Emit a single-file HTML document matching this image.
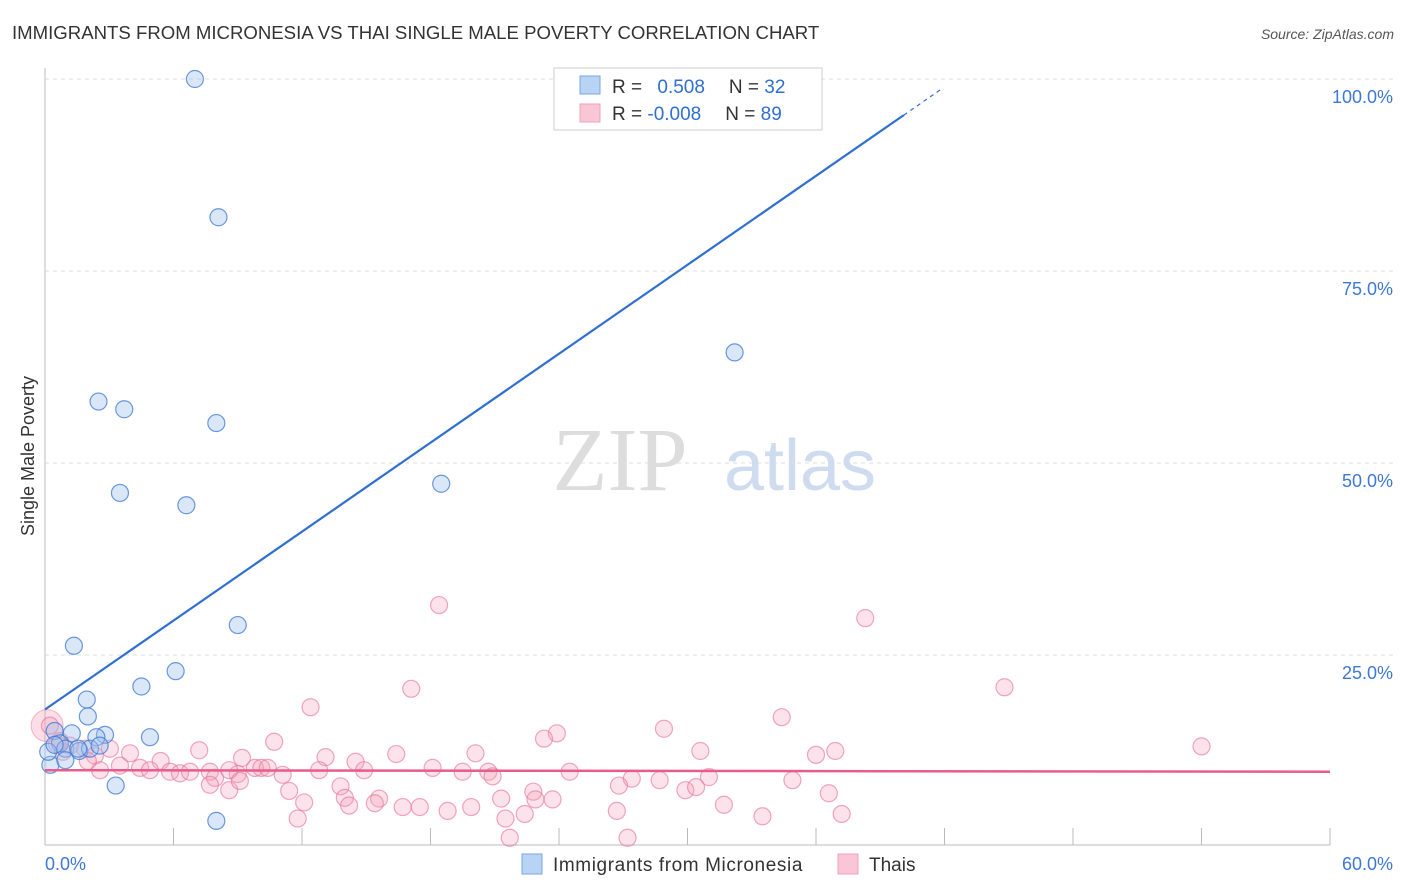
<!DOCTYPE html>
<html><head><meta charset="utf-8"><style>
body{margin:0;background:#fff;font-family:"Liberation Sans",sans-serif}
svg{display:block}
</style></head><body>
<svg width="1406" height="892">
<text x="12" y="39" font-size="18.6" fill="#333">IMMIGRANTS FROM MICRONESIA VS THAI SINGLE MALE POVERTY CORRELATION CHART</text>
<text x="1394" y="39" font-size="14" fill="#555" font-style="italic" text-anchor="end">Source: ZipAtlas.com</text>
<g id="grid"></g>
<text x="620" y="490" font-size="90" fill="#ddd" font-family="Liberation Serif" text-anchor="middle">ZIP</text>
<text x="800" y="490" font-size="72" fill="#cfdcf0" text-anchor="middle">atlas</text>
<text transform="translate(34,456) rotate(-90)" font-size="18" fill="#333" text-anchor="middle">Single Male Poverty</text>
<g id="marks"></g>
<g>
<rect x="554" y="68" width="268" height="62" fill="#fff" stroke="#ccc"/>
<rect x="580" y="76" width="20" height="18" fill="#b9d3f5" stroke="#7aa6e0"/>
<rect x="580" y="104" width="20" height="18" fill="#f9c6d5" stroke="#eea0b8"/>
<text x="612" y="93" font-size="19" fill="#333">R = <tspan fill="#2f6fd0" dx="10">0.508</tspan><tspan dx="24" fill="#333">N = </tspan><tspan fill="#2f6fd0">32</tspan></text>
<text x="612" y="120" font-size="19" fill="#333">R = <tspan fill="#2f6fd0">-0.008</tspan><tspan dx="24" fill="#333">N = </tspan><tspan fill="#2f6fd0">89</tspan></text>
</g>
<g>
<rect x="522" y="854" width="20" height="20" fill="#b9d3f5" stroke="#7aa6e0"/>
<text x="553" y="871" font-size="19" letter-spacing="0.6" fill="#333">Immigrants from Micronesia</text>
<rect x="838" y="854" width="20" height="20" fill="#f9c6d5" stroke="#eea0b8"/>
<text x="869" y="871" font-size="19" fill="#333">Thais</text>
</g>
</svg>
<script>
const xTicks=[0,60];
const yTicks=[25,50,75,100];
const blueX=[7,8.1,2.5,3.7,8,3.5,6.6,18.5,32.2,9.0,1.35,6.1,4.5,1.95,2.0,4.9,2.8,2.4,1.25,0.45,0.7,0.95,1.6,2.1,2.55,0.25,0.95,3.3,8.0,0.15,0.45,1.55];
const blueY=[100,82,58,57,55.2,46.1,44.5,47.3,64.4,28.9,26.2,22.9,20.9,19.2,17.0,14.3,14.6,14.3,14.8,15.1,13.5,12.8,12.5,12.8,13.2,10.7,11.3,8.0,3.4,12.4,13.3,12.8];
const pinkX=[18.4,38.3,44.8,54.0,17.1,12.4,34.4,28.9,23.9,23.3,30.6,36.9,36.0,20.1,16.4,13.1,9.2,7.2,10.7,3.97,5.4,0.23,0.7,1.17,1.87,2.33,3.03,3.5,4.44,4.9,5.84,6.3,6.77,7.7,7.94,9.0,9.8,10.1,11.1,12.8,14.5,14.9,18.1,19.5,20.7,20.9,24.5,27.4,26.8,28.7,31.0,34.9,13.8,14.0,14.2,15.6,15.4,16.7,17.5,18.8,19.9,21.3,21.5,22.4,22.8,22.9,23.7,26.7,29.9,30.4,31.7,33.5,36.6,37.2,11.8,12.1,7.7,8.6,2.57,2.0,0.84,0.56,21.7,27.2,11.4,8.6,10.4,9.1];
const pinkY=[31.5,29.8,20.8,13.1,20.6,18.2,16.9,15.4,14.8,14.1,12.5,12.5,12.0,12.2,12.1,11.7,11.6,12.6,13.7,12.2,11.2,15.8,13.8,13.2,12.8,11.9,12.8,10.6,10.3,10.0,9.8,9.6,9.8,9.8,9.0,9.5,10.3,10.3,9.4,10.0,11.1,10.0,10.3,9.8,9.8,9.2,9.8,8.9,8.0,8.7,9.1,8.7,7.9,6.4,5.4,6.3,5.7,5.2,5.2,4.7,5.2,6.3,3.7,4.3,7.2,6.2,6.2,4.7,7.4,7.8,5.5,4.0,7.0,4.3,3.7,5.8,8.1,7.4,10.0,11.2,12.4,13.4,1.2,1.2,7.3,10.0,10.3,8.6];
const blueTrend=[0,17.9,40.1,95.3];
const pinkTrend=[0,10.0,60,9.8];
const NS='http://www.w3.org/2000/svg';
const X0=45,X1=1330,Y0=847,Y100=79;
const sx=v=>X0+(v/60)*(X1-X0);
const sy=v=>Y0-(v/100)*(Y0-Y100);
const grid=document.getElementById('grid'),marks=document.getElementById('marks');
function mk(t,a,p){const e=document.createElementNS(NS,t);for(const k in a)e.setAttribute(k,a[k]);p.appendChild(e);return e;}
let ax=mk('line',{x1:X0,y1:68,x2:X0,y2:845,stroke:'#bbb'},grid);


let bx=mk('line',{x1:X0,y1:845,x2:X1,y2:845,stroke:'#bbb'},grid);


for(let i=1;i<=10;i++){const x=X0+i*(X1-X0)/10;let t=mk('line',{x1:x,y1:828,x2:x,y2:845,stroke:'#bbb'},grid);

}
yTicks.forEach(v=>{let g=mk('line',{x1:X0,y1:sy(v),x2:1394,y2:sy(v),stroke:'#ddd','stroke-dasharray':'4,4'},grid);


let t=mk('text',{x:1393,y:sy(v)+24,'font-size':18,fill:'#3d78d8','text-anchor':'end'},grid);t.textContent=v.toFixed(1)+'%';

});
xTicks.forEach((v,i)=>{let t=mk('text',{x:i?1393:45,y:870,'font-size':18,fill:'#3d78d8','text-anchor':i?'end':'start'},grid);t.textContent=v.toFixed(1)+'%';

});
let big=mk('circle',{cx:sx(0.1),cy:sy(15.8),r:16,fill:'rgba(244,160,185,0.35)',stroke:'rgba(232,120,160,0.5)'},marks);


pinkX.forEach((x,i)=>{let c=mk('circle',{cx:sx(x),cy:sy(pinkY[i]),r:8.5,fill:'rgba(244,160,185,0.3)',stroke:'rgba(232,110,150,0.6)','stroke-width':1.2},marks);

});
blueX.forEach((x,i)=>{let c=mk('circle',{cx:sx(x),cy:sy(blueY[i]),r:8.5,fill:'rgba(160,195,240,0.4)',stroke:'rgba(60,120,210,0.75)','stroke-width':1.2},marks);

});
let bl=mk('line',{x1:sx(blueTrend[0]),y1:sy(blueTrend[1]),x2:sx(blueTrend[2]),y2:sy(blueTrend[3]),stroke:'#2f6fd0','stroke-width':2.2},marks);


const slope=(blueTrend[3]-blueTrend[1])/(blueTrend[2]-blueTrend[0]);
let bd=mk('line',{x1:sx(blueTrend[2]),y1:sy(blueTrend[3]),x2:sx(41.8),y2:sy(blueTrend[1]+slope*41.8),stroke:'#2f6fd0','stroke-width':1.2,'stroke-dasharray':'4,4'},marks);


let pl=mk('line',{x1:sx(pinkTrend[0]),y1:sy(pinkTrend[1]),x2:sx(pinkTrend[2]),y2:sy(pinkTrend[3]),stroke:'#e85c8c','stroke-width':2.5},marks);


</script>
</body></html>
